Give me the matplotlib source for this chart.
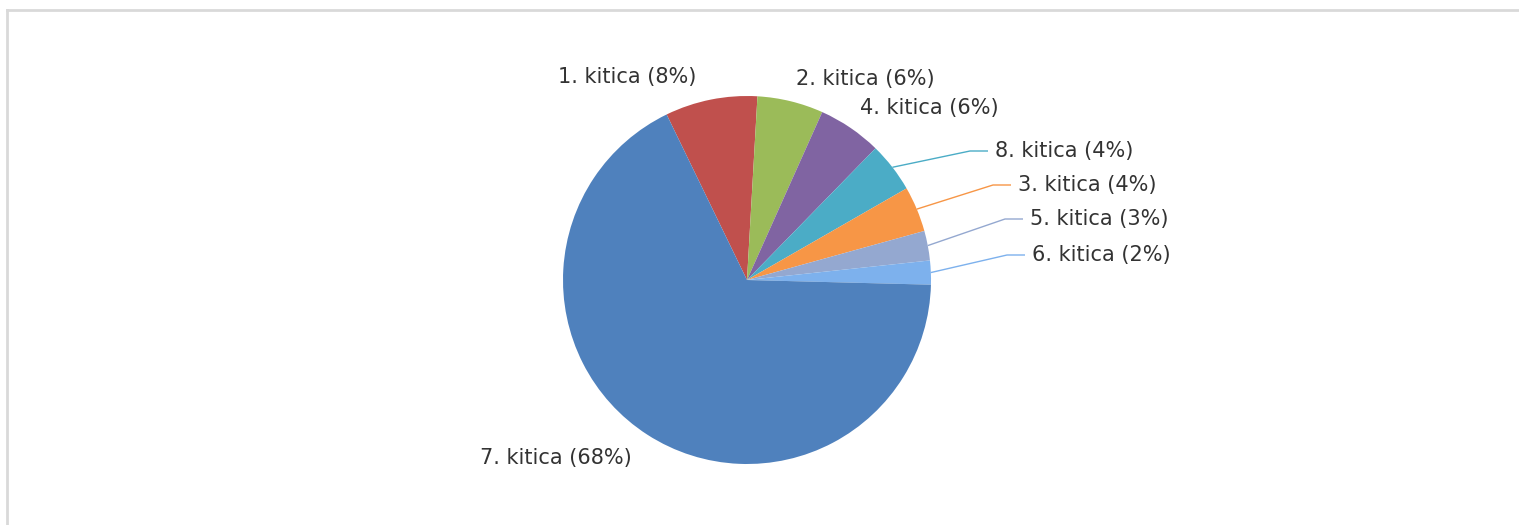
import matplotlib
matplotlib.use("Agg")
import matplotlib.pyplot as plt
import numpy as np

# ---- data (clockwise order as drawn) ----
labels = ["1. kitica", "2. kitica", "4. kitica", "8. kitica",
          "3. kitica", "5. kitica", "6. kitica", "7. kitica"]
values = [8.1, 5.8, 5.6, 4.4, 4.0, 2.6, 2.1, 67.4]
pct_text = ["8%", "6%", "6%", "4%", "4%", "3%", "2%", "68%"]
colors = ["#C0504D", "#9BBB59", "#8064A2", "#4BACC6",
          "#F79646", "#94A8D0", "#7DB1ED", "#4F81BD"]

W, H = 1519, 525
fig = plt.figure(figsize=(W / 100, H / 100), dpi=100)
ax = fig.add_axes([0, 0, 1, 1])

cx, cy, R = 747, H - 280, 184
start = 115.9
wedges, _ = ax.pie(values, colors=colors, startangle=start, counterclock=False,
                   center=(cx, cy), radius=R, wedgeprops=dict(linewidth=0))
ax.set_xlim(0, W)
ax.set_ylim(0, H)
ax.set_aspect("equal")
ax.axis("off")

# label layout: (text left x, text center y in pixels from top, leader?)
layout = [
    (558, 77, False),
    (796, 79, False),
    (860, 108, False),
    (995, 151, True),
    (1018, 185, True),
    (1030, 219, True),
    (1032, 255, True),
    (480, 458, False),
]
txt_color = "#333333"
fs = 15
for w, lab, pt, col, (tx, ty, lead) in zip(wedges, labels, pct_text, colors, layout):
    ty_d = H - ty
    ax.text(tx, ty_d, f"{lab} ({pt})", fontsize=fs, color=txt_color,
            ha="left", va="center", family="DejaVu Sans")
    if lead:
        mid = np.deg2rad((w.theta1 + w.theta2) / 2)
        x0 = cx + R * np.cos(mid)
        y0 = cy + R * np.sin(mid)
        xe = tx - 7
        xb = xe - 18
        ax.plot([x0, xb, xe], [y0, ty_d, ty_d], color=col, lw=1.0,
                solid_capstyle="butt")

# chart frame
frame_col = "#d9d9d9"
ax.plot([7, 7], [0, H - 10], color=frame_col, lw=2, clip_on=False)
ax.plot([7, W], [H - 10, H - 10], color=frame_col, lw=2, clip_on=False)

fig.savefig("out.png", dpi=100)
